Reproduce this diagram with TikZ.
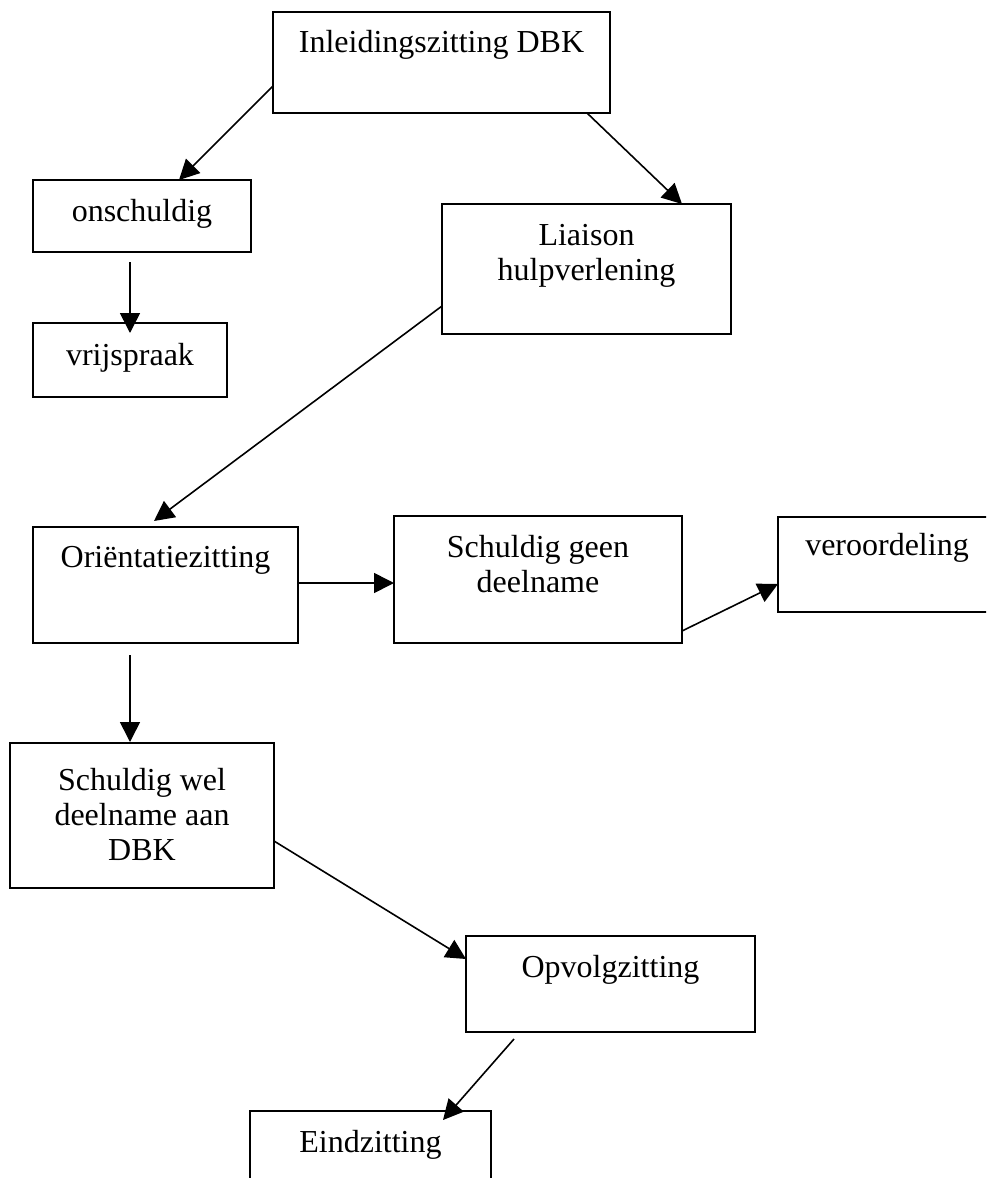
\documentclass[tikz,border=0pt]{standalone}
\usepackage{fontspec}
\setmainfont{Liberation Serif}
\usetikzlibrary{arrows.meta,calc,fit}
\begin{document}
\begin{tikzpicture}[x=0.75pt,y=-0.75pt,
  box/.style={draw=black,line width=1.5pt,inner sep=0pt,outer sep=0pt,fill=white},
  lbl/.style={inner sep=0pt,anchor=base,align=center,
    font=\fontsize{24pt}{26.25pt}\selectfont},
  link/.style={draw=black,line width=1.2pt,-{Triangle[length=15pt,width=15pt]}}]
\useasboundingbox (0,0) rectangle (986,1178);
\fill[white] (0,0) rectangle (986,1178);
\clip (0,0) rectangle (986,1178);

% boxes
\node[box,fit={(273,12) (610,113)}]   (inl)     {};
\node[box,fit={(33,180) (251,252)}]   (onsch)   {};
\node[box,fit={(442,204) (731,334)}]  (liaison) {};
\node[box,fit={(33,323) (227,397)}]   (vrij)    {};
\node[box,fit={(33,527) (298,643)}]   (orient)  {};
\node[box,fit={(394,516) (682,643)}]  (sgeen)   {};
\node[box,fit={(778,517) (996,612)}]  (veroord) {};
\node[box,fit={(10,743) (274,888)}]   (swel)    {};
\node[box,fit={(466,936) (755,1032)}] (opvolg)  {};
\node[box,fit={(250,1111) (491,1200)}] (eind)   {};

% texts; the base anchor of a multi-line node sits on its last line
\node[lbl] (inl-t)     at ($(inl.north)+(0,40)$)      {Inleidingszitting DBK};
\node[lbl] (onsch-t)   at ($(onsch.north)+(0,41)$)    {onschuldig};
\node[lbl] (liaison-t) at ($(liaison.north)+(0,76)$)  {Liaison\\hulpverlening};
\node[lbl] (vrij-t)    at ($(vrij.north)+(0,42)$)     {vrijspraak};
\node[lbl] (orient-t)  at ($(orient.north)+(0,40)$)   {Oriëntatiezitting};
\node[lbl] (sgeen-t)   at ($(sgeen.north)+(0,76)$)    {Schuldig geen\\deelname};
\node[lbl] (veroord-t) at ($(veroord.north)+(0,38)$)  {veroordeling};
\node[lbl] (swel-t)    at ($(swel.north)+(0,117)$)    {Schuldig wel\\deelname aan\\DBK};
\node[lbl] (opvolg-t)  at ($(opvolg.north)+(0,41)$)   {Opvolgzitting};
\node[lbl] (eind-t)    at ($(eind.north)+(0,41)$)     {Eindzitting};

% connectors
\draw[link] ($(inl.north west)+(0,74)$)      -- ($(onsch.north west)+(146,0)$);
\draw[link] ($(inl.south west)+(314,0)$)     -- ($(liaison.north west)+(240,0)$);
\draw[link] ($(onsch.south west)+(97,10)$)   -- ($(vrij.north west)+(97,10)$);
\draw[link] ($(liaison.north west)+(0,102)$) -- ($(orient.north west)+(121,-6)$);
\draw[link] ($(orient.north east)+(0,56)$)   -- ($(sgeen.north west)+(0,67)$);
\draw[link] ($(sgeen.north east)+(0,115)$)   -- ($(veroord.north west)+(0,67)$);
\draw[link] ($(orient.south west)+(97,12)$)  -- ($(swel.north west)+(120,-1)$);
\draw[link] ($(swel.north east)+(0,98)$)     -- ($(opvolg.north west)+(0,23)$);
\draw[link] ($(opvolg.south west)+(48,7)$)   -- ($(eind.north west)+(193,9)$);
\end{tikzpicture}
\end{document}
